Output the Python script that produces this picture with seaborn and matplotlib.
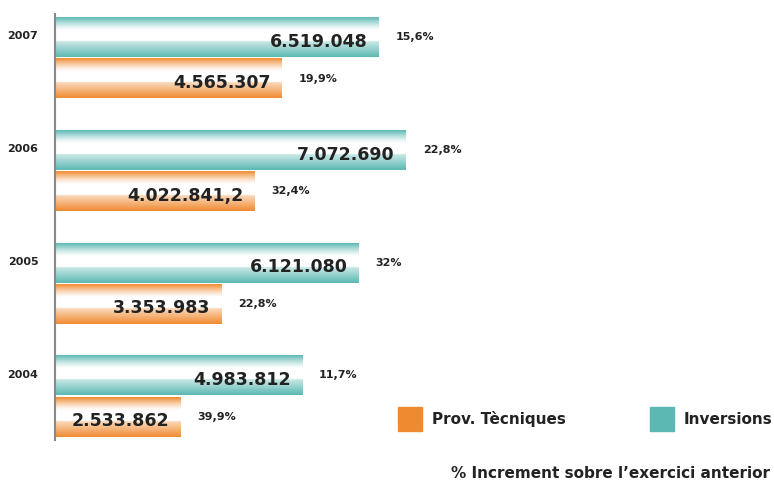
import numpy as np
import pandas as pd
import seaborn as sns
import matplotlib.pyplot as plt
from matplotlib.colors import to_rgb
from matplotlib.patches import Rectangle

# values
years = ["2007", "2006", "2005", "2004"]
inversions = [6519048, 7072690, 6121080, 4983812]
provisions = [4565307, 4022841.2, 3353983, 2533862]
inv_labels = ["6.519.048", "7.072.690", "6.121.080", "4.983.812"]
prov_labels = ["4.565.307", "4.022.841,2", "3.353.983", "2.533.862"]
inv_pct = ["15,6%", "22,8%", "32%", "11,7%"]
prov_pct = ["19,9%", "32,4%", "22,8%", "39,9%"]

teal = "#5bb8b3"
orange = "#f08a30"
ink = "#222222"

data = pd.DataFrame({
    "year": years * 2,
    "value": inversions + provisions,
    "serie": ["Inversions"] * 4 + ["Prov. Tècniques"] * 4,
})

sns.set_style("white")
plt.rcParams["font.family"] = ["DejaVu Sans"]

fig = plt.figure(figsize=(7.74, 4.83), dpi=100)
ax = fig.add_axes([55 / 774, 1 - 440 / 483, 1 - 55 / 774, (440 - 14) / 483])

sns.barplot(data=data, x="value", y="year", hue="serie", orient="h",
            hue_order=["Inversions", "Prov. Tècniques"],
            palette=[teal, orange], saturation=1, width=0.73, gap=0.03,
            ax=ax, legend=False)

# gradient fill: colour at top, wide white band, colour again at the bottom
t = np.linspace(0, 1, 200)
strength = np.where(t < 0.33, (1 - t / 0.33) ** 1.3,
                    np.where(t < 0.6, 0.0, 0.3 + 0.7 * (t - 0.6) / 0.4))
strength = np.clip(strength, 0, 1)

for bar in list(ax.patches):
    x0, y0 = bar.get_x(), bar.get_y()
    w, h = bar.get_width(), bar.get_height()
    c = np.array(to_rgb(bar.get_facecolor()))
    img = 1 - strength[:, None] * (1 - c[None, :])
    ax.imshow(img[:, None, :], extent=[x0, x0 + w, y0 + h, y0], origin="upper",
              aspect="auto", zorder=2, interpolation="bilinear")
    bar.set_visible(False)

ax.set_xlim(0, 14.5e6)
ax.set_ylim(3.39, -0.39)

# value labels inside the bars, growth labels outside
px = 1 / 49.5e-6  # one pixel in data units
half = 0.73 / 4
for i in range(len(years)):
    yi = i - half
    yp = i + half
    ax.text(inversions[i] - 11 * px, yi + 0.04, inv_labels[i], ha="right",
            va="center", fontsize=12.5, fontweight="heavy", color=ink, zorder=3)
    ax.text(provisions[i] - 11 * px, yp + 0.04, prov_labels[i], ha="right",
            va="center", fontsize=12.5, fontweight="heavy", color=ink, zorder=3)
    ax.text(inversions[i] + 17 * px, yi, inv_pct[i], ha="left", va="center",
            fontsize=8, fontweight="bold", color=ink)
    ax.text(provisions[i] + 17 * px, yp, prov_pct[i], ha="left", va="center",
            fontsize=8, fontweight="bold", color=ink)

# axes cosmetics
for side in ["top", "right", "bottom"]:
    ax.spines[side].set_visible(False)
ax.spines["left"].set_color("#888888")
ax.spines["left"].set_linewidth(1.5)
ax.set_xticks([])
ax.set_xlabel("")
ax.set_ylabel("")
ax.set_yticks([i - 0.2 for i in range(4)])
ax.set_yticklabels(years, fontsize=8, fontweight="bold", color=ink)
ax.tick_params(axis="y", length=0, pad=12)
edges = []
for i in range(4):
    edges += [i - 0.365, i + 0.365]
ax.set_yticks(edges, minor=True)
ax.tick_params(axis="y", which="minor", direction="inout", length=7,
               color="#666666", width=1)

# legend
fig.add_artist(Rectangle((398 / 774, 1 - 431 / 483), 24 / 774, 24 / 483,
                         color=orange, transform=fig.transFigure))
fig.text(432 / 774, 1 - 419 / 483, "Prov. Tècniques", va="center", ha="left",
         fontsize=11, fontweight="bold", color=ink)
fig.add_artist(Rectangle((650 / 774, 1 - 431 / 483), 24 / 774, 24 / 483,
                         color=teal, transform=fig.transFigure))
fig.text(684 / 774, 1 - 419 / 483, "Inversions", va="center", ha="left",
         fontsize=11, fontweight="bold", color=ink)
fig.text(770 / 774, 1 - 473 / 483, "% Increment sobre l\u2019exercici anterior",
         va="center", ha="right", fontsize=11, fontweight="bold", color=ink)

plt.savefig("out.png", dpi=100)
